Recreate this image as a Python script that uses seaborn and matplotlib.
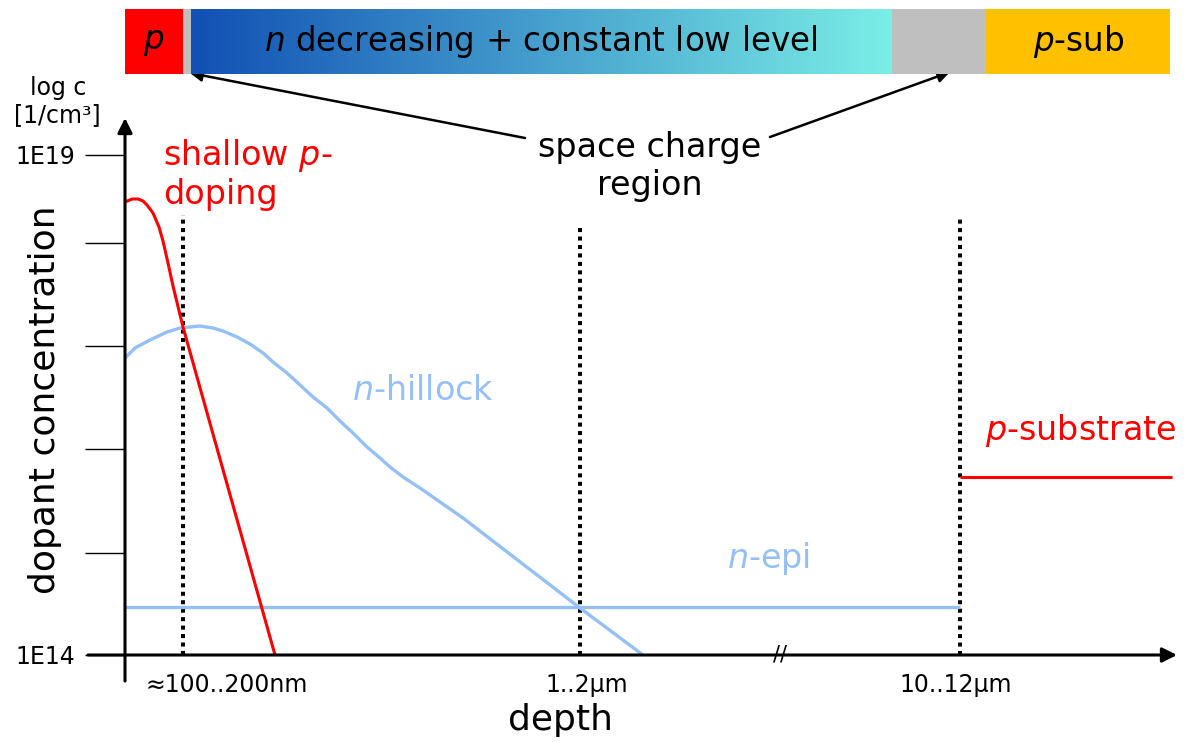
import numpy as np
import pandas as pd
import matplotlib
matplotlib.use("Agg")
import matplotlib.pyplot as plt
import seaborn as sns
from matplotlib.colors import LinearSegmentedColormap

# ---------------- data (schematic depth position, log10 concentration) ----------------
p_doping_x = [0, 7, 13, 18, 22, 28, 34, 38, 43, 48, 58, 72, 150]
p_doping_y = [18.53, 18.56, 18.56, 18.54, 18.50, 18.42, 18.28, 18.14, 17.92, 17.69, 17.28, 16.78, 14.0]

hillock_x = [0, 10, 25, 42, 55, 65, 75, 88, 98, 112, 125, 138, 148, 162, 175, 188, 202, 215,
             228, 242, 255, 265, 278, 295, 315, 338, 455, 518]
hillock_y = [16.97, 17.07, 17.15, 17.23, 17.27, 17.28, 17.29, 17.27, 17.24, 17.18, 17.11, 17.02,
             16.93, 16.82, 16.70, 16.58, 16.47, 16.34, 16.22, 16.08, 15.97, 15.88, 15.78, 15.67,
             15.53, 15.37, 14.47, 14.0]

epi_x = [0, 835]
epi_y = [14.48, 14.48]

substrate_x = [835, 1047]
substrate_y = [15.78, 15.78]

boundary_x = [58, 455, 835]
boundary_top = [18.40, 18.30, 18.37]
boundary_labels = ["≈100..200nm", "1..2μm", "10..12μm"]

ytick_vals = [14, 15.02, 16.06, 17.09, 18.12, 19]
ytick_labels = ["1E14", "", "", "", "", "1E19"]

bar_edges = [0, 58, 66, 768, 863, 1047]
bar_colors = ["#FF0000", "#BFBFBF", None, "#BFBFBF", "#FFC000"]
bar_texts = ["$p$", "", "$n$ decreasing + constant low level", "", "$p$-sub"]
grad_left = "#1150B4"
grad_right = "#7BEEE6"

RED = "#FF0000"
LBLUE = "#94C0F6"

# ---------------- figure ----------------
sns.set_theme(style="white")
plt.rcParams["font.family"] = ["DejaVu Sans"]
plt.rcParams["mathtext.fontset"] = "dejavusans"
plt.rcParams["text.color"] = "black"
plt.rcParams["ytick.color"] = "black"
plt.rcParams["ytick.labelcolor"] = "black"

W, H = 1186, 742
fig = plt.figure(figsize=(W / 100, H / 100), dpi=100)
fig.patch.set_facecolor("white")

def px(x0, y0, x1, y1):
    return [x0 / W, 1 - y1 / H, (x1 - x0) / W, (y1 - y0) / H]

ax = fig.add_axes(px(125, 120, 1170, 655))
ax.set_xlim(0, 1045)
ax.set_ylim(14, 19.35)
ax.patch.set_alpha(0)
for s in ax.spines.values():
    s.set_visible(False)

df_p = pd.DataFrame({"x": p_doping_x, "y": p_doping_y})
df_h = pd.DataFrame({"x": hillock_x, "y": hillock_y})
df_e = pd.DataFrame({"x": epi_x, "y": epi_y})
df_s = pd.DataFrame({"x": substrate_x, "y": substrate_y})

sns.lineplot(data=df_h, x="x", y="y", ax=ax, color=LBLUE, lw=2.4, sort=False, estimator=None)
sns.lineplot(data=df_e, x="x", y="y", ax=ax, color=LBLUE, lw=2.4, sort=False, estimator=None)
sns.lineplot(data=df_p, x="x", y="y", ax=ax, color=RED, lw=2.2, sort=False, estimator=None)
sns.lineplot(data=df_s, x="x", y="y", ax=ax, color=RED, lw=2.2, sort=False, estimator=None)
for l in ax.lines:
    l.set_clip_on(False)
    l.set_solid_joinstyle("round")
    l.set_solid_capstyle("butt")

ax.vlines(boundary_x, 14, boundary_top, colors="black", linestyles=(0, (1, 1.1)), lw=2.9, zorder=1)

# axes with arrows
ax.annotate("", xy=(0, 19.37), xytext=(0, 13.74), xycoords="data",
            arrowprops=dict(arrowstyle="-|>", color="black", lw=2.2, mutation_scale=22,
                            shrinkA=0, shrinkB=0), annotation_clip=False)
ax.annotate("", xy=(1052, 14), xytext=(-37, 14), xycoords="data",
            arrowprops=dict(arrowstyle="-|>", color="black", lw=2.2, mutation_scale=22,
                            shrinkA=0, shrinkB=0), annotation_clip=False)
ax.text(655, 14.0, "//", ha="center", va="center", fontsize=15, color="black")

ax.set_yticks(ytick_vals, ytick_labels)
ax.set_xticks([])
ax.tick_params(axis="y", length=29, width=1.0, pad=7, labelsize=17, direction="out",
               colors="black", left=True)
ax.set_xlabel("")
ax.set_ylabel("")

# x position labels
ax.text(20, 13.63, boundary_labels[0], ha="left", va="baseline", fontsize=17)
ax.text(boundary_x[1] + 7, 13.63, boundary_labels[1], ha="center", va="baseline", fontsize=17)
ax.text(boundary_x[2] - 4, 13.63, boundary_labels[2], ha="center", va="baseline", fontsize=17)

ax.text(436, 13.25, "depth", ha="center", va="baseline", fontsize=26)
ax.text(-80, 16.55, "dopant concentration", ha="center", va="center", rotation=90, fontsize=26)
ax.text(-67, 19.60, "log c", ha="center", va="baseline", fontsize=17)
ax.text(-68, 19.33, "[1/cm³]", ha="center", va="baseline", fontsize=17)

# annotations
ax.text(38, 18.90, "shallow $p$-", color=RED, ha="left", va="baseline", fontsize=24)
ax.text(38, 18.51, "doping", color=RED, ha="left", va="baseline", fontsize=24)
ax.text(227, 16.55, "$n$-hillock", color=LBLUE, ha="left", va="baseline", fontsize=24)
ax.text(602, 14.87, "$n$-epi", color=LBLUE, ha="left", va="baseline", fontsize=24)
ax.text(860, 16.15, "$p$-substrate", color=RED, ha="left", va="baseline", fontsize=24)
ax.text(525, 18.98, "space charge", ha="center", va="baseline", fontsize=24)
ax.text(525, 18.60, "region", ha="center", va="baseline", fontsize=24)

ax.annotate("", xy=(65, 19.82), xytext=(400, 19.17),
            arrowprops=dict(arrowstyle="-|>", color="black", lw=1.8, mutation_scale=18,
                            shrinkA=0, shrinkB=0), annotation_clip=False)
ax.annotate("", xy=(825, 19.83), xytext=(645, 19.18),
            arrowprops=dict(arrowstyle="-|>", color="black", lw=1.8, mutation_scale=18,
                            shrinkA=0, shrinkB=0), annotation_clip=False)

# ---------------- top bar ----------------
bax = fig.add_axes(px(125, 9, 1170, 74))
bax.axis("off")
cmap = LinearSegmentedColormap.from_list("grad", [grad_left, grad_right])
for i in range(len(bar_edges) - 1):
    x0, x1 = bar_edges[i], bar_edges[i + 1]
    if bar_colors[i] is None:
        grad = np.linspace(0, 1, 256).reshape(1, -1)
        bax.imshow(grad, cmap=cmap, aspect="auto", extent=(x0, x1, 0, 1), zorder=1)
    else:
        bax.barh(0.5, x1 - x0, left=x0, height=1, color=bar_colors[i], edgecolor="none", zorder=1)
    if bar_texts[i]:
        bax.text((x0 + x1) / 2, 0.5, bar_texts[i], ha="center", va="center", fontsize=23.5,
                 color="black", zorder=3)
bax.set_xlim(0, 1047)
bax.set_ylim(0, 1)

fig.savefig("out.png", dpi=100)
